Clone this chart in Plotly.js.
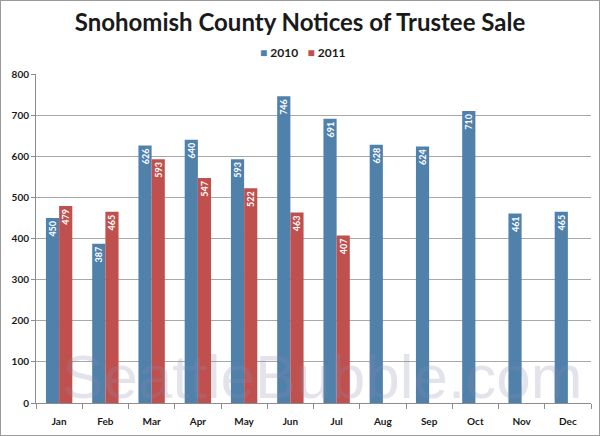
<!DOCTYPE html>
<html>
<head>
<meta charset="utf-8">
<script src="https://cdn.plot.ly/plotly-3.0.1.min.js"></script>
<style>
  body { margin: 0; background: #fff; }
  #chart { width: 598px; height: 434px; border: 1px solid #9a9a9a; }
</style>
</head>
<body>
<div id="chart"></div>
<script>
  // Datos del gráfico
  const months = ["Jan", "Feb", "Mar", "Apr", "May", "Jun", "Jul", "Aug", "Sep", "Oct", "Nov", "Dec"];
  const sales2010 = [450, 387, 626, 640, 593, 746, 691, 628, 624, 710, 461, 465];
  const sales2011 = [479, 465, 593, 547, 522, 463, 407];
  const yTicks = [0, 100, 200, 300, 400, 500, 600, 700, 800];

  const fontMain = "Lato, 'Open Sans', sans-serif";
  const blue = "#5081ab";
  const red = "#c0504d";

  const labelStyle = {
    textposition: "inside",
    insidetextanchor: "end",
    textangle: -90,
    constraintext: "none",
    insidetextfont: { family: fontMain, size: 9, color: "#ffffff", weight: "bold" },
  };

  const trace2010 = Object.assign({
    type: "bar",
    name: "2010",
    x: months,
    y: sales2010,
    text: sales2010.map(String),
    marker: { color: blue },
  }, labelStyle);

  const trace2011 = Object.assign({
    type: "bar",
    name: "2011",
    x: months.slice(0, sales2011.length),
    y: sales2011,
    text: sales2011.map(String),
    marker: { color: red },
  }, labelStyle);

  // Leyenda compacta como en el original
  const legendText =
    `<span style="color:${blue}">■</span> <b>${trace2010.name}</b>   ` +
    `<span style="color:${red}">■</span> <b>${trace2011.name}</b>`;

  const layout = {
    width: 598,
    height: 434,
    margin: { l: 35, r: 8, t: 73, b: 32 },
    paper_bgcolor: "#ffffff",
    plot_bgcolor: "#ffffff",
    font: { family: fontMain, color: "#1a1a1a" },
    title: {
      text: "Snohomish County Notices of Trustee Sale",
      font: { family: fontMain, size: 24, color: "#1a1a1a", weight: "bold" },
      x: 0.5,
      xanchor: "center",
      xref: "container",
      y: 1 - 22 / 434,
      yref: "container",
      yanchor: "middle",
    },
    showlegend: false,
    barmode: "group",
    bargap: 0.43,
    bargroupgap: 0,
    xaxis: {
      type: "category",
      categoryorder: "array",
      categoryarray: months,
      showline: true,
      linecolor: "#8c8c8c",
      linewidth: 1,
      ticks: "outside",
      tickson: "boundaries",
      ticklen: 5,
      tickcolor: "#8c8c8c",
      ticklabelstandoff: 9,
      tickfont: { family: fontMain, size: 10, weight: "bold", color: "#1a1a1a" },
      showgrid: false,
      fixedrange: true,
    },
    yaxis: {
      range: [0, 800],
      tickvals: yTicks,
      ticktext: yTicks.map(String),
      showline: true,
      linecolor: "#8c8c8c",
      linewidth: 1,
      ticks: "outside",
      ticklen: 4,
      tickcolor: "#8c8c8c",
      tickfont: { family: fontMain, size: 10, weight: "bold", color: "#1a1a1a" },
      showgrid: true,
      gridcolor: "#a8a8a8",
      gridwidth: 1,
      zeroline: false,
      fixedrange: true,
    },
    annotations: [
      {
        text: legendText,
        xref: "paper",
        yref: "paper",
        x: 0.481,
        y: 1.064,
        xanchor: "center",
        yanchor: "middle",
        showarrow: false,
        font: { family: fontMain, size: 12, color: "#1a1a1a" },
      },
      {
        // Marca de agua
        text: "SeattleBubble.com",
        xref: "paper",
        yref: "paper",
        x: 0.515,
        y: 0,
        xanchor: "center",
        yanchor: "bottom",
        yshift: -10,
        showarrow: false,
        font: { family: "'Liberation Sans', Arial, sans-serif", size: 62, color: "rgba(140,140,175,0.24)" },
      },
    ],
  };

  Plotly.newPlot("chart", [trace2010, trace2011], layout, { displayModeBar: false, staticPlot: true });
</script>
</body>
</html>
